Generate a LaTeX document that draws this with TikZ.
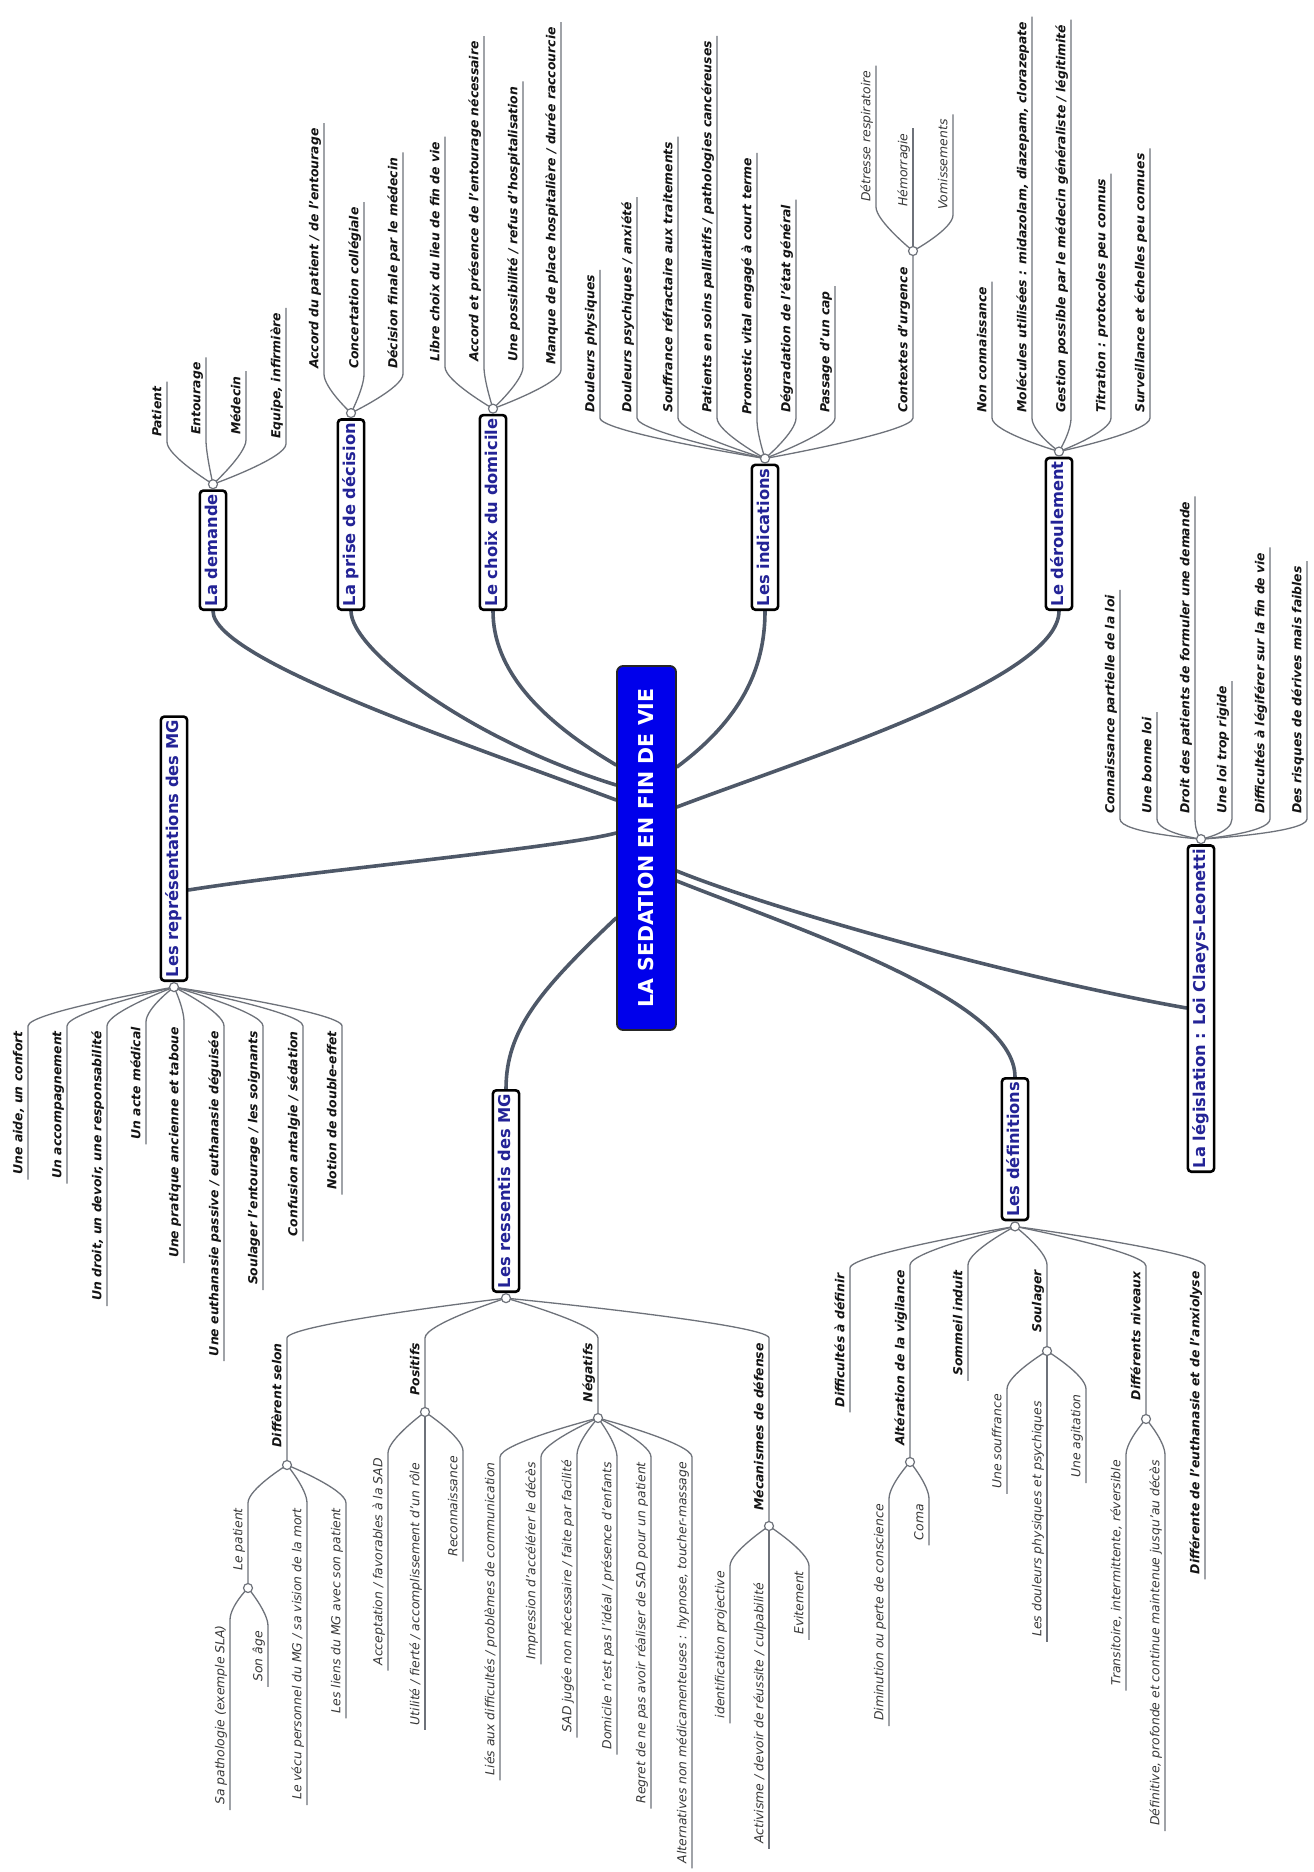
\documentclass[tikz,border=0pt]{standalone}
\usepackage{fontspec}
\setmainfont{DejaVu Sans}
\usetikzlibrary{calc,backgrounds}
\definecolor{navy}{RGB}{35,35,150}
\definecolor{rootblue}{RGB}{0,0,235}
\definecolor{branchc}{RGB}{78,88,104}
\definecolor{leafc}{RGB}{110,114,122}
\begin{document}
\begin{tikzpicture}[x=1pt,y=-1pt,
  topic/.style={draw=black,line width=2.6pt,rounded corners=3.5pt,fill=white,text=navy,
    font=\fontsize{16.3}{18}\selectfont\bfseries,rotate=90,inner xsep=3.5pt,inner ysep=5pt,
    text height=12.4pt,text depth=3.9pt},
  rootbox/.style={draw=black!85,line width=1.8pt,rounded corners=6pt,fill=rootblue,text=white,
    font=\fontsize{20.5}{24}\selectfont\bfseries,rotate=90,minimum width=364pt,minimum height=59pt},
  lb/.style={rotate=90,inner xsep=5pt,inner ysep=2.5pt,text height=9.4pt,text depth=3pt,
    font=\fontsize{12.4}{14}\selectfont\bfseries\itshape,text=black!92},
  lr/.style={lb,font=\fontsize{12.4}{14}\selectfont\itshape,text=black!78},
  lup/.style={anchor=south west},
  ldn/.style={anchor=south east},
  hub/.style={circle,draw=leafc,fill=white,line width=1.2pt,inner sep=0pt,minimum size=9pt},
  ledge/.style={draw=leafc,line width=1.3pt},
  medge/.style={draw=branchc,line width=3.6pt,line cap=round},
]
\useasboundingbox (0,0) rectangle (1314,1872);

% root
\node[rootbox] (root) at (646.5,848) {LA SEDATION EN FIN DE VIE};

% topics
\node[topic,anchor=west] (dem) at (213,611) {La demande};
\node[topic,anchor=west] (dec) at (351,611) {La prise de décision};
\node[topic,anchor=west] (dom) at (493,611) {Le choix du domicile};
\node[topic,anchor=west] (ind) at (765,611) {Les indications};
\node[topic,anchor=west] (der) at (1059,611) {Le déroulement};
\node[topic,anchor=west] (leg) at (1201,1173) {La législation : Loi Claeys-Leonetti};
\node[topic,anchor=east] (def) at (1015,1077) {Les définitions};
\node[topic,anchor=east] (res) at (506,1089) {Les ressentis des MG};
\node[topic,anchor=west] (rep) at (174,982) {Les représentations des MG};

% hubs of topics
\node[hub,anchor=south] (demh) at (dem.east) {};
\node[hub,anchor=south] (dech) at (dec.east) {};
\node[hub,anchor=south] (domh) at (dom.east) {};
\node[hub,anchor=south] (indh) at (ind.east) {};
\node[hub,anchor=south] (derh) at (der.east) {};
\node[hub,anchor=south] (legh) at (leg.east) {};
\node[hub,anchor=north] (defh) at (def.west) {};
\node[hub,anchor=north] (resh) at (res.west) {};
\node[hub,anchor=north] (reph) at (rep.west) {};

% La demande
\node[lb,lup] (dm1) at (167,442) {Patient};
\node[lb,lup] (dm2) at (206,440) {Entourage};
\node[lb,lup] (dm3) at (246,440) {Médecin};
\node[lb,lup] (dm4) at (286,444) {Equipe, infirmière};
% La prise de décision
\node[lb,lup] (pd1) at (324,374) {Accord du patient / de l'entourage};
\node[lb,lup] (pd2) at (364,374) {Concertation collégiale};
\node[lb,lup] (pd3) at (403,374) {Décision finale par le médecin};
% Le choix du domicile
\node[lb,lup] (cd1) at (445,367) {Libre choix du lieu de fin de vie};
\node[lb,lup] (cd2) at (484,367) {Accord et présence de l'entourage nécessaire};
\node[lb,lup] (cd3) at (523,367) {Une possibilité / refus d'hospitalisation};
\node[lb,lup] (cd4) at (561,370) {Manque de place hospitalière / durée raccourcie};
% Les indications
\node[lb,lup] (in1) at (600,418) {Douleurs physiques};
\node[lb,lup] (in2) at (637,418) {Douleurs psychiques / anxiété};
\node[lb,lup] (in3) at (678,418) {Souffrance réfractaire aux traitements};
\node[lb,lup] (in4) at (717,418) {Patients en soins palliatifs / pathologies cancéreuses};
\node[lb,lup] (in5) at (757,420) {Pronostic vital engagé à court terme};
\node[lb,lup] (in6) at (796,418) {Dégradation de l'état général};
\node[lb,lup] (in7) at (835,418) {Passage d'un cap};
\node[lb,lup] (in8) at (913,418) {Contextes d'urgence};
\node[hub] (ctxh) at (913,251) {};
\node[lr,lup] (ct1) at (876,207) {Détresse respiratoire};
\node[lr,lup] (ct2) at (913,212) {Hémorragie};
\node[lr,lup] (ct3) at (953,215) {Vomissements};
% Le déroulement
\node[lb,lup] (dr1) at (992,418) {Non connaissance};
\node[lb,lup] (dr2) at (1032,418) {Molécules utilisées : midazolam, diazepam, clorazepate};
\node[lb,lup] (dr3) at (1071,418) {Gestion possible par le médecin généraliste / légitimité};
\node[lb,lup] (dr4) at (1111,418) {Titration : protocoles peu connus};
\node[lb,lup] (dr5) at (1150,418) {Surveillance et échelles peu connues};
% La législation
\node[lb,lup] (lg1) at (1120,819) {Connaissance partielle de la loi};
\node[lb,lup] (lg2) at (1157,819) {Une bonne loi};
\node[lb,lup] (lg3) at (1195,819) {Droit des patients de formuler une demande};
\node[lb,lup] (lg4) at (1232,819) {Une loi trop rigide};
\node[lb,lup] (lg5) at (1270,819) {Difficultés à légiférer sur la fin de vie};
\node[lb,lup] (lg6) at (1307,819) {Des risques de dérives mais faibles};
% Les représentations des MG
\node[lb,ldn] (rp1) at (28,1026) {Une aide, un confort};
\node[lb,ldn] (rp2) at (67,1026) {Un accompagnement};
\node[lb,ldn] (rp3) at (107,1026) {Un droit, un devoir, une responsabilité};
\node[lb,ldn] (rp4) at (146,1022) {Un acte médical};
\node[lb,ldn] (rp5) at (184,1022) {Une pratique ancienne et taboue};
\node[lb,ldn] (rp6) at (224,1026) {Une euthanasie passive / euthanasie déguisée};
\node[lb,ldn] (rp7) at (263,1026) {Soulager l'entourage / les soignants};
\node[lb,ldn] (rp8) at (303,1026) {Confusion antalgie / sédation};
\node[lb,ldn] (rp9) at (342,1026) {Notion de double-effet};
% Les ressentis des MG
\node[lb,ldn] (rs1) at (287,1338) {Diffèrent selon};
\node[hub] (dsh) at (287,1465) {};
\node[lr,ldn] (ds1) at (248,1503) {Le patient};
\node[hub] (lph) at (248,1588) {};
\node[lr,ldn] (lp1) at (230,1620) {Sa pathologie (exemple SLA)};
\node[lr,ldn] (lp2) at (268,1626) {Son âge};
\node[lr,ldn] (ds2) at (307,1503) {Le vécu personnel du MG / sa vision de la mort};
\node[lr,ldn] (ds3) at (346,1503) {Les liens du MG avec son patient};
\node[lb,ldn] (rs2) at (425,1338) {Positifs};
\node[hub] (posh) at (425,1412) {};
\node[lr,ldn] (po1) at (388,1453) {Acceptation / favorables à la SAD};
\node[lr,ldn] (po2) at (425,1458) {Utilité / fierté / accomplissement d'un rôle};
\node[lr,ldn] (po3) at (463,1451) {Reconnaissance};
\node[lb,ldn] (rs3) at (598,1338) {Négatifs};
\node[hub] (negh) at (598,1418) {};
\node[lr,ldn] (ng1) at (500,1457) {Liés aux difficultés / problèmes de communication};
\node[lr,ldn] (ng2) at (541,1457) {Impression d'accélérer le décès};
\node[lr,ldn] (ng3) at (577,1455) {SAD jugée non nécessaire / faite par facilité};
\node[lr,ldn] (ng4) at (617,1457) {Domicile n'est pas l'idéal / présence d'enfants};
\node[lr,ldn] (ng5) at (651,1457) {Regret de ne pas avoir réaliser de SAD pour un patient};
\node[lr,ldn] (ng6) at (692,1457) {Alternatives non médicamenteuses : hypnose, toucher-massage};
\node[lb,ldn] (rs4) at (769,1338) {Mécanismes de défense};
\node[hub] (mech) at (769,1526) {};
\node[lr,ldn] (mc1) at (730,1566) {identification projective};
\node[lr,ldn] (mc2) at (769,1578) {Activisme / devoir de réussite / culpabilité};
\node[lr,ldn] (mc3) at (809,1566) {Evitement};
% Les définitions
\node[lb,ldn] (df1) at (850,1268) {Difficultés à définir};
\node[lb,ldn] (df2) at (910,1265) {Altération de la vigilance};
\node[hub] (avh) at (910,1462) {};
\node[lr,ldn] (av1) at (889,1499) {Diminution ou perte de conscience};
\node[lr,ldn] (av2) at (929,1499) {Coma};
\node[lb,ldn] (df3) at (968,1265) {Sommeil induit};
\node[lb,ldn] (df4) at (1047,1265) {Soulager};
\node[hub] (sgh) at (1047,1351) {};
\node[lr,ldn] (sg1) at (1007,1389) {Une souffrance};
\node[lr,ldn] (sg2) at (1047,1396) {Les douleurs physiques et psychiques};
\node[lr,ldn] (sg3) at (1086,1389) {Une agitation};
\node[lb,ldn] (df5) at (1146,1266) {Différents niveaux};
\node[hub] (dnh) at (1146,1419) {};
\node[lr,ldn] (dn1) at (1126,1455) {Transitoire, intermittente, réversible};
\node[lr,ldn] (dn2) at (1165,1455) {Définitive, profonde et continue maintenue jusqu'au décès};
\node[lb,ldn] (df6) at (1205,1266) {Différente de l'euthanasie et de l'anxiolyse};

\begin{scope}[on background layer]
\fill[white] (0,0) rectangle (1314,1872);
% main branches
\draw[medge] (root.north |- 0,800) .. controls (470,745) and (213,660) .. (dem.west);
\draw[medge] (root.north |- 0,785) .. controls (470,740) and (351,650) .. (dec.west);
\draw[medge] (root.north |- 0,765) .. controls (540,720) and (493,670) .. (dom.west);
\draw[medge] (root.south |- 0,767) .. controls (740,720) and (765,670) .. (ind.west);
\draw[medge] (root.south |- 0,807) .. controls (800,760) and (1059,680) .. (der.west);
\draw[medge] (root.north |- 0,833) .. controls (560,848) and (300,872) .. (rep.south |- 0,890);
\draw[medge] (root.north |- 0,918) .. controls (540,990) and (506,1030) .. (res.east);
\draw[medge] (root.south |- 0,871) .. controls (760,905) and (1000,975) .. (leg.north |- 0,1008);
\draw[medge] (root.south |- 0,881) .. controls (800,930) and (1015,1000) .. (def.east);
% upward fans
\foreach \h/\l in {demh/{dm1,dm2,dm3,dm4},dech/{pd1,pd2,pd3},domh/{cd1,cd2,cd3,cd4},
  indh/{in1,in2,in3,in4,in5,in6,in7},derh/{dr1,dr2,dr3,dr4,dr5},legh/{lg1,lg2,lg3,lg4,lg5,lg6},
  ctxh/{ct1,ct3}}{
  \foreach \n in \l {
    \draw[ledge] (\h.center) .. controls +(0,0) and +(0,14) .. (\n.south west) -- (\n.south east);
  }
}
\draw[ledge] (indh.center) .. controls +(0,0) and +(0,14) .. (in8.south west) -- (ctxh.center);
\draw[ledge] (ctxh.center) -- (ct2.south west) -- (ct2.south east);
% downward fans
\foreach \h/\l in {reph/{rp1,rp2,rp3,rp4,rp5,rp6,rp7,rp8,rp9},lph/{lp1,lp2},dsh/{ds2,ds3},
  posh/{po1,po3},negh/{ng1,ng2,ng3,ng4,ng5,ng6},mech/{mc1,mc3},defh/{df1,df3,df6},
  avh/{av1,av2},sgh/{sg1,sg3},dnh/{dn1,dn2}}{
  \foreach \n in \l {
    \draw[ledge] (\h.center) .. controls +(0,0) and +(0,-14) .. (\n.south east) -- (\n.south west);
  }
}
\draw[ledge] (resh.center) .. controls +(0,0) and +(0,-14) .. (rs1.south east) -- (dsh.center);
\draw[ledge] (resh.center) .. controls +(0,0) and +(0,-14) .. (rs2.south east) -- (posh.center);
\draw[ledge] (resh.center) .. controls +(0,0) and +(0,-14) .. (rs3.south east) -- (negh.center);
\draw[ledge] (resh.center) .. controls +(0,0) and +(0,-14) .. (rs4.south east) -- (mech.center);
\draw[ledge] (dsh.center) .. controls +(0,0) and +(0,-14) .. (ds1.south east) -- (lph.center);
\draw[ledge] (defh.center) .. controls +(0,0) and +(0,-14) .. (df2.south east) -- (avh.center);
\draw[ledge] (defh.center) .. controls +(0,0) and +(0,-14) .. (df4.south east) -- (sgh.center);
\draw[ledge] (defh.center) .. controls +(0,0) and +(0,-14) .. (df5.south east) -- (dnh.center);
\draw[ledge] (posh.center) -- (po2.south east) -- (po2.south west);
\draw[ledge] (mech.center) -- (mc2.south east) -- (mc2.south west);
\draw[ledge] (sgh.center) -- (sg2.south east) -- (sg2.south west);
\end{scope}
\end{tikzpicture}
\end{document}
